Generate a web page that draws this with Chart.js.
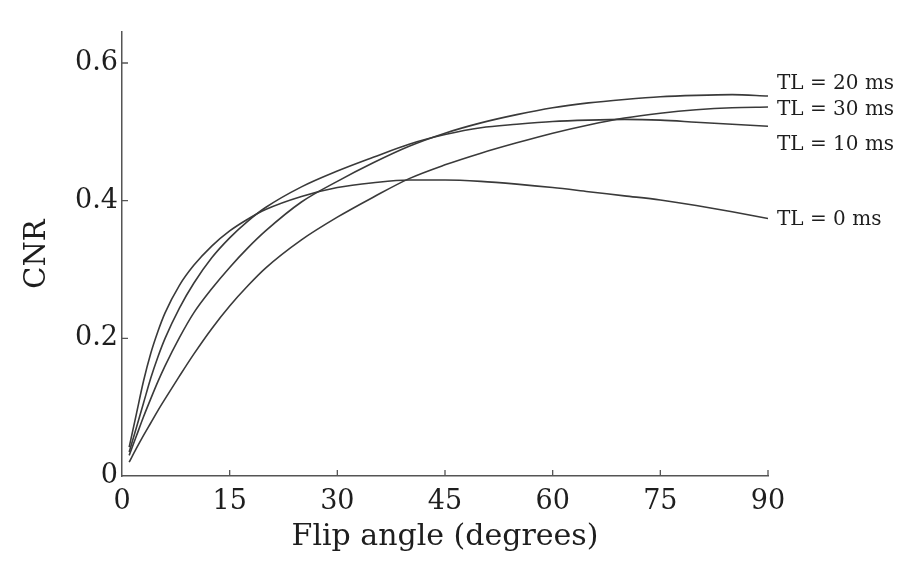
<!DOCTYPE html>
<html>
<head>
<meta charset="utf-8">
<script src="https://cdn.jsdelivr.net/npm/chart.js@4.4.1/dist/chart.umd.min.js"></script>
<style>
  html, body { margin: 0; padding: 0; background: #fff; }
  #wrap { width: 917px; height: 578px; }
</style>
</head>
<body>
<div id="wrap"><canvas id="cnrChart"></canvas></div>
<script>
// values
const flipAngles = [1, 2, 3, 4, 5, 6, 8, 10, 12.5, 15, 17.5, 20, 25, 30, 35, 40, 45, 50, 55, 60, 65, 70, 75, 80, 85, 90];
const cnrTL0  = [0.042, 0.09, 0.138, 0.178, 0.21, 0.237, 0.277, 0.306, 0.334, 0.356, 0.373, 0.387, 0.406, 0.419, 0.426, 0.43, 0.43, 0.428, 0.424, 0.419, 0.413, 0.407, 0.401, 0.393, 0.384, 0.374];
const cnrTL10 = [0.035, 0.07, 0.106, 0.142, 0.173, 0.2, 0.244, 0.28, 0.317, 0.346, 0.37, 0.39, 0.42, 0.443, 0.463, 0.482, 0.496, 0.506, 0.511, 0.515, 0.517, 0.518, 0.517, 0.514, 0.511, 0.508];
const cnrTL20 = [0.03, 0.058, 0.086, 0.112, 0.137, 0.16, 0.201, 0.237, 0.272, 0.303, 0.331, 0.356, 0.398, 0.428, 0.455, 0.479, 0.498, 0.513, 0.525, 0.535, 0.542, 0.547, 0.551, 0.553, 0.554, 0.552];
const cnrTL30 = [0.02, 0.04, 0.059, 0.077, 0.095, 0.112, 0.145, 0.177, 0.214, 0.247, 0.276, 0.302, 0.343, 0.376, 0.405, 0.432, 0.452, 0.469, 0.484, 0.498, 0.51, 0.52, 0.527, 0.532, 0.535, 0.536];
const seriesNames = ['TL = 20 ms', 'TL = 30 ms', 'TL = 10 ms', 'TL = 0 ms'];
const xTickValues = [0, 15, 30, 45, 60, 75, 90];
const yTickValues = [0, 0.2, 0.4, 0.6];

const serif = "'DejaVu Serif', serif";
const ink = '#1e1e1e';

function toPoints(values) {
    return flipAngles.map((a, i) => ({ x: a, y: values[i] }));
}

const seriesValues = [cnrTL20, cnrTL30, cnrTL10, cnrTL0];
const datasets = seriesValues.map((vals, i) => ({
    label: seriesNames[i],
    data: toPoints(vals),
    borderColor: '#3a3a3a',
    borderWidth: 1.6,
    pointRadius: 0,
    fill: false,
    cubicInterpolationMode: 'monotone'
}));

// small inward tick marks, like the original figure
const innerTicks = {
    id: 'innerTicks',
    afterDraw(chart) {
        const { ctx, scales: { x, y }, chartArea } = chart;
        ctx.save();
        ctx.strokeStyle = '#555';
        ctx.lineWidth = 1.3;
        ctx.beginPath();
        xTickValues.forEach(v => {
            if (v === 0) return;
            const px = x.getPixelForValue(v);
            ctx.moveTo(px, chartArea.bottom);
            ctx.lineTo(px, chartArea.bottom - 6);
        });
        yTickValues.forEach(v => {
            if (v === 0) return;
            const py = y.getPixelForValue(v);
            ctx.moveTo(chartArea.left, py);
            ctx.lineTo(chartArea.left + 6, py);
        });
        ctx.stroke();
        ctx.restore();
    }
};

// series names written at the right end of each curve
const endLabels = {
    id: 'endLabels',
    nudge: [-12, 3, 18, 1],
    afterDatasetsDraw(chart) {
        const ctx = chart.ctx;
        ctx.save();
        ctx.font = "20px " + serif;
        ctx.fillStyle = ink;
        ctx.textAlign = 'left';
        ctx.textBaseline = 'middle';
        chart.data.datasets.forEach((ds, i) => {
            const meta = chart.getDatasetMeta(i);
            const last = meta.data[meta.data.length - 1];
            ctx.fillText(ds.label, last.x + 9, last.y + this.nudge[i]);
        });
        ctx.restore();
    }
};

const ctx = document.getElementById('cnrChart').getContext('2d');
new Chart(ctx, {
    type: 'line',
    data: { datasets: datasets },
    options: {
        responsive: true,
        maintainAspectRatio: false,
        animation: false,
        layout: { padding: { left: 20, top: 32, right: 149, bottom: 23 } },
        plugins: {
            legend: { display: false },
            tooltip: { enabled: false }
        },
        scales: {
            x: {
                type: 'linear',
                min: 0,
                max: 90,
                afterBuildTicks: s => { s.ticks = xTickValues.map(v => ({ value: v })); },
                afterFit: s => { s.height = 79; },
                grid: { display: false, drawTicks: false },
                border: { display: true, color: '#555', width: 1.5 },
                ticks: { color: ink, font: { family: serif, size: 27 }, padding: 10, maxRotation: 0 },
                title: { display: true, text: 'Flip angle (degrees)', color: ink, font: { family: serif, size: 30 }, padding: 0 }
            },
            y: {
                min: 0,
                max: 0.645,
                afterBuildTicks: s => { s.ticks = yTickValues.map(v => ({ value: v })); },
                afterFit: s => { s.width = 102; },
                grid: { display: false, drawTicks: false },
                border: { display: true, color: '#555', width: 1.5 },
                ticks: {
                    color: ink,
                    font: { family: serif, size: 27 },
                    padding: 4,
                    callback: v => v === 0 ? '0' : v.toFixed(1)
                },
                title: { display: true, text: 'CNR', color: ink, font: { family: serif, size: 29 }, padding: 0 }
            }
        }
    },
    plugins: [innerTicks, endLabels]
});
</script>
</body>
</html>
